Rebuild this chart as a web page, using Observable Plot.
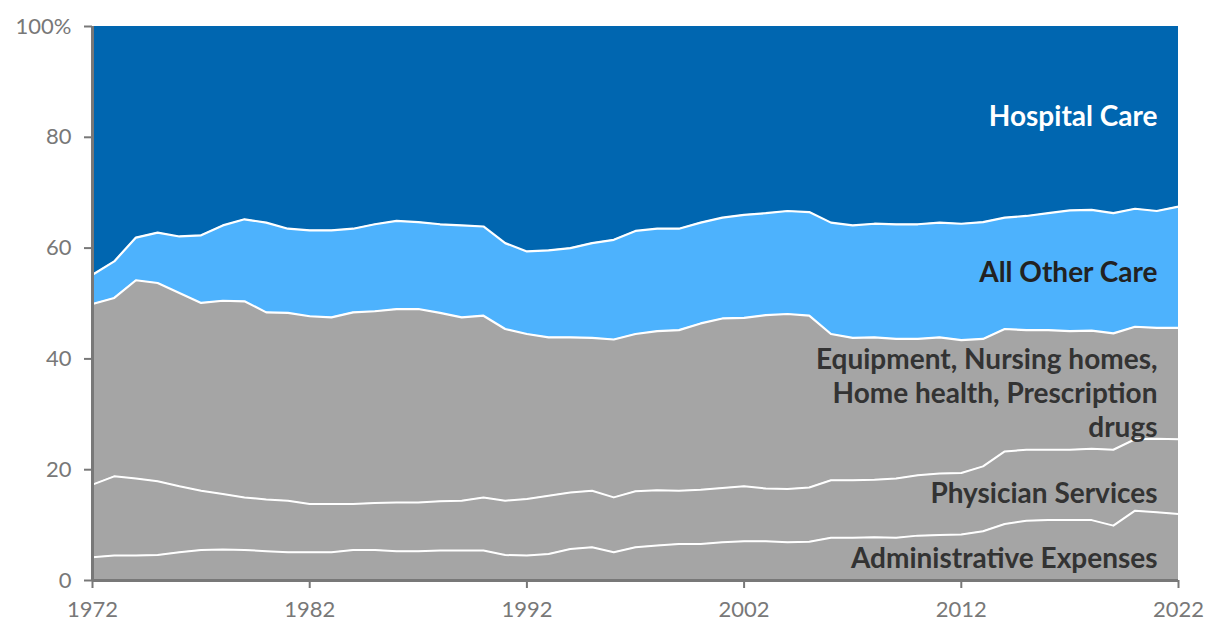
<!DOCTYPE html>
<html>
<head>
<meta charset="utf-8">
<script src="https://cdn.jsdelivr.net/npm/d3@7"></script>
<script src="https://cdn.jsdelivr.net/npm/@observablehq/plot@0.6"></script>
<style>
  html, body { margin: 0; padding: 0; background: #fff; }
  svg { display: block; }
</style>
</head>
<body>
<div id="chart"></div>
<script>
// Years (x categories)
const years = [1972,1973,1974,1975,1976,1977,1978,1979,1980,1981,1982,1983,1984,1985,1986,1987,1988,1989,1990,1991,1992,1993,1994,1995,1996,1997,1998,1999,2000,2001,2002,2003,2004,2005,2006,2007,2008,2009,2010,2011,2012,2013,2014,2015,2016,2017,2018,2019,2020,2021,2022];

// Cumulative share boundaries (%), bottom to top
const adminTop = [4.2,4.5,4.5,4.6,5.1,5.5,5.6,5.5,5.3,5.1,5.1,5.1,5.5,5.5,5.3,5.3,5.4,5.4,5.4,4.6,4.5,4.8,5.7,6.0,5.1,6.0,6.3,6.6,6.6,6.9,7.1,7.1,6.9,7.0,7.7,7.7,7.8,7.7,8.1,8.2,8.3,8.9,10.2,10.8,10.9,10.9,10.9,9.9,12.6,12.3,12.0];
const physicianTop = [17.3,18.8,18.4,17.9,17.0,16.2,15.6,15.0,14.6,14.4,13.8,13.8,13.8,14.0,14.1,14.1,14.3,14.4,15.0,14.4,14.7,15.3,15.9,16.2,15.0,16.1,16.3,16.2,16.4,16.7,17.0,16.6,16.5,16.8,18.1,18.1,18.2,18.4,19.0,19.3,19.4,20.6,23.3,23.6,23.6,23.6,23.8,23.6,25.5,25.6,25.5];
const equipmentTop = [49.9,51.0,54.2,53.7,51.9,50.1,50.5,50.4,48.4,48.3,47.7,47.5,48.4,48.6,49.0,49.0,48.3,47.5,47.8,45.4,44.5,43.9,43.9,43.8,43.5,44.5,45.0,45.2,46.4,47.3,47.4,47.9,48.1,47.8,44.5,43.8,43.9,43.6,43.6,43.9,43.4,43.6,45.4,45.2,45.2,45.0,45.1,44.6,45.8,45.6,45.6];
const allOtherTop = [55.2,57.6,61.9,62.8,62.1,62.3,64.1,65.2,64.6,63.5,63.2,63.2,63.5,64.3,64.9,64.7,64.3,64.1,63.9,60.9,59.4,59.6,60.0,60.9,61.5,63.1,63.5,63.5,64.6,65.5,66.0,66.3,66.7,66.5,64.6,64.1,64.4,64.3,64.3,64.6,64.4,64.7,65.5,65.8,66.3,66.8,66.9,66.3,67.1,66.7,67.5];

// Axis ticks
const yTicks = [0, 20, 40, 60, 80, 100];
const xTicks = [1972, 1982, 1992, 2002, 2012, 2022];

// Labels
const labelNames = ["Hospital Care", "All Other Care", "Equipment, Nursing homes,\nHome health, Prescription\ndrugs", "Physician Services", "Administrative Expenses"];
const labelY = [84.0, 55.8, 34.0, 16.0, 4.3];
const labelColors = ["#ffffff", "#222222", "#333333", "#333333", "#333333"];

const rows = years.map((year, i) => ({
  year,
  admin: adminTop[i],
  phys: physicianTop[i],
  equip: equipmentTop[i],
  other: allOtherTop[i]
}));

const labels = labelNames.map((t, i) => ({ t, y: labelY[i], c: labelColors[i] }));

const gray = "#a5a5a5";
const lightBlue = "#4db2fd";
const darkBlue = "#0066b0";
const axisColor = "#787878";

const chart = Plot.plot({
  width: 1220,
  height: 642,
  marginTop: 26,
  marginBottom: 62,
  marginLeft: 92,
  marginRight: 42,
  style: { fontFamily: "Lato, 'Open Sans', sans-serif", background: "#fff" },
  x: { domain: [1972, 2022] },
  y: { domain: [0, 100] },
  marks: [
    Plot.areaY(rows, { x: "year", y1: 0, y2: "admin", fill: gray }),
    Plot.areaY(rows, { x: "year", y1: "admin", y2: "phys", fill: gray }),
    Plot.areaY(rows, { x: "year", y1: "phys", y2: "equip", fill: gray }),
    Plot.areaY(rows, { x: "year", y1: "equip", y2: "other", fill: lightBlue }),
    Plot.areaY(rows, { x: "year", y1: "other", y2: 100, fill: darkBlue }),
    Plot.lineY(rows, { x: "year", y: "admin", stroke: "white", strokeWidth: 2 }),
    Plot.lineY(rows, { x: "year", y: "phys", stroke: "white", strokeWidth: 2 }),
    Plot.lineY(rows, { x: "year", y: "equip", stroke: "white", strokeWidth: 2.2 }),
    Plot.lineY(rows, { x: "year", y: "other", stroke: "white", strokeWidth: 2.2 }),
    Plot.text(labels, {
      x: () => 2022, y: "y", text: "t", fill: "c",
      textAnchor: "end", dx: -21, lineAnchor: "middle", lineHeight: 1.21,
      fontSize: 28, fontWeight: "bold"
    }),
    Plot.axisY({
      ticks: yTicks, tickFormat: d => d === 100 ? "100%" : String(d),
      tickSize: 8, tickPadding: 13, fontSize: 22, color: axisColor, strokeWidth: 2, label: null
    }),
    Plot.axisX({
      ticks: xTicks, tickFormat: d => String(d),
      tickSize: 8, tickPadding: 13, fontSize: 22, color: axisColor, strokeWidth: 2, label: null
    }),
    Plot.ruleX([1972], { stroke: axisColor, strokeWidth: 3 }),
    Plot.ruleY([0], { stroke: axisColor, strokeWidth: 3 })
  ]
});

document.getElementById("chart").appendChild(chart);
</script>
</body>
</html>
